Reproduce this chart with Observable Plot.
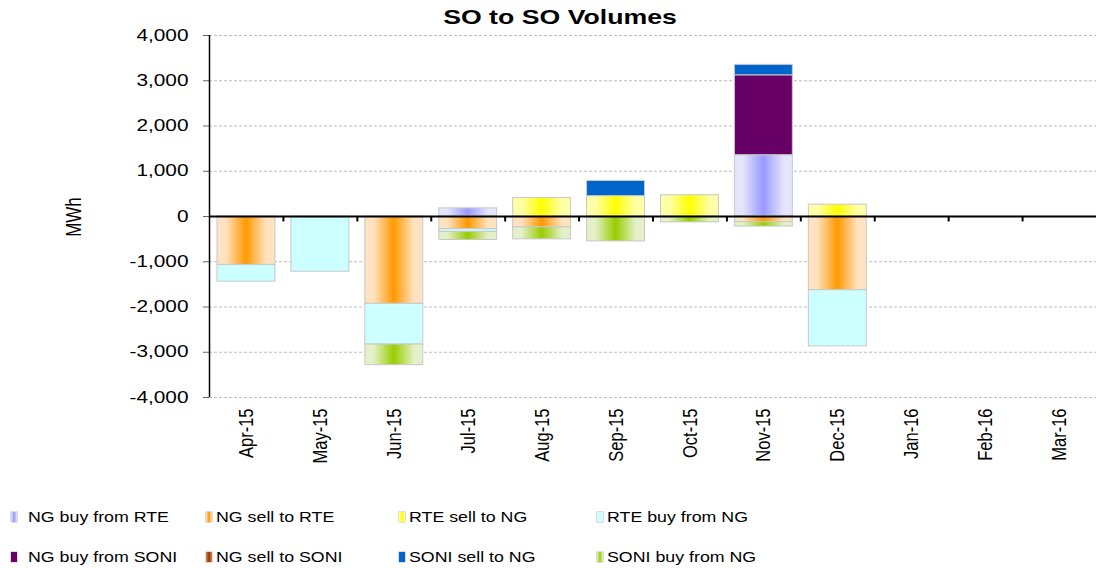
<!DOCTYPE html>
<html>
<head>
<meta charset="utf-8">
<script src="https://cdn.jsdelivr.net/npm/d3@7"></script>
<script src="https://cdn.jsdelivr.net/npm/@observablehq/plot@0.6"></script>
<style>
  html, body { margin: 0; padding: 0; background: #fff; }
  body { width: 1096px; height: 568px; position: relative; overflow: hidden;
         font-family: "Liberation Sans", Arial, sans-serif; color: #000; }
  #chart { position: absolute; left: 0; top: 0; }
  #title { position: absolute; left: 0; width: 1120px; top: 4px; text-align: center;
           font-weight: bold; font-size: 21px; line-height: 26px; }
  #title span { display: inline-block; transform: scaleX(1.27); }
  #ylabel { position: absolute; left: 75px; top: 217px; font-size: 17px; line-height: 20px;
            transform: translate(-50%, -50%) rotate(-90deg) scaleY(1.27); white-space: nowrap; }
  .leg { position: absolute; font-size: 14px; line-height: 16px; white-space: nowrap; }
  .leg .sw { position: absolute; left: 0; top: 3px; width: 6px; height: 10px; }
  .leg .tx { position: absolute; top: 0; display: inline-block; transform: scaleX(1.27); transform-origin: left center; }
</style>
</head>
<body>
<div id="chart"></div>
<div id="title"><span>SO to SO Volumes</span></div>
<div id="ylabel">MWh</div>
<div id="legend"></div>
<script>
// ---- data ----
const months = ["Apr-15","May-15","Jun-15","Jul-15","Aug-15","Sep-15","Oct-15","Nov-15","Dec-15","Jan-16","Feb-16","Mar-16"];
const seriesNames = ["NG buy from RTE","NG sell to RTE","RTE sell to NG","RTE buy from NG",
                     "NG buy from SONI","NG sell to SONI","SONI sell to NG","SONI buy from NG"];
const ngBuyFromRTE   = [0, 0, 0, 180, 0, 0, 0, 1355, 0, 0, 0, 0];
const ngSellToRTE    = [-1070, -20, -1930, -280, -240, 0, 0, -125, -1630, 0, 0, 0];
const rteSellToNG    = [0, 0, 0, 0, 410, 450, 470, 0, 260, 0, 0, 0];
const rteBuyFromNG   = [-370, -1200, -900, -60, 0, 0, 0, 0, -1240, 0, 0, 0];
const ngBuyFromSONI  = [0, 0, 0, 0, 0, 0, 0, 1765, 0, 0, 0, 0];
const ngSellToSONI   = [0, 0, 0, 0, 0, 0, 0, 0, 0, 0, 0, 0];
const soniSellToNG   = [0, 0, 0, 0, 0, 335, 0, 230, 0, 0, 0, 0];
const soniBuyFromNG  = [0, 0, -455, -180, -265, -550, -130, -97, 0, 0, 0, 0];
const yTicks = [-4000, -3000, -2000, -1000, 0, 1000, 2000, 3000, 4000];

const seriesValues = [ngBuyFromRTE, ngSellToRTE, rteSellToNG, rteBuyFromNG,
                      ngBuyFromSONI, ngSellToSONI, soniSellToNG, soniBuyFromNG];
const fills = ["url(#gBlue)","url(#gOrange)","url(#gYellow)","#ccffff",
               "#660066","url(#gBrown)","#0066cc","url(#gGreen)"];
const cssFills = [
  "linear-gradient(90deg,#e4e4fc,#9999ff,#e4e4fc)",
  "linear-gradient(90deg,#ffe2c0,#ff9900,#ffe2c0)",
  "linear-gradient(90deg,#ffffa8,#ffff00,#ffffa8)",
  "#ccffff", "#660066",
  "linear-gradient(90deg,#d08a60,#993300,#d08a60)",
  "#0066cc",
  "linear-gradient(90deg,#e4f0c8,#99cc00,#e4f0c8)"
];

const data = [];
seriesNames.forEach((s, i) => {
  seriesValues[i].forEach((v, j) => { if (v !== 0) data.push({month: months[j], series: s, value: v}); });
});

const W = 1096, H = 470, ML = 209, MR = 0, MT = 35, MB = 73;
const step = (W - ML - MR) / months.length;
const fmt = d => d.toLocaleString("en-US");

const chart = Plot.plot({
  width: W, height: H,
  marginTop: MT, marginBottom: MB, marginLeft: ML, marginRight: MR,
  style: {fontFamily: "'Liberation Sans', Arial, sans-serif", fontSize: "16px", color: "#000", background: "white", overflow: "visible"},
  x: {domain: months, padding: 0, round: false, axis: null},
  y: {domain: [-4000, 4000], axis: null},
  color: {domain: seriesNames, range: fills},
  marks: [
    Plot.gridY(yTicks, {stroke: "#bdbdbd", strokeOpacity: 1, strokeDasharray: "3,2"}),
    Plot.axisY(yTicks, {tickSize: 6, tickPadding: 15, tickFormat: fmt, stroke: "#666", fontSize: 16, label: null}),
    Plot.barY(data, Plot.stackY({x: "month", y: "value", fill: "series", insetLeft: 8, insetRight: 8,
                                 stroke: "#c8c8c8", strokeWidth: 1})),
    Plot.ruleY([0], {stroke: "#000", strokeWidth: 2}),
    Plot.ruleX(months.slice(1), {dx: -step / 2, y1: 0, y2: -120, stroke: "#000", strokeWidth: 2}),
    Plot.ruleX([months[0]], {dx: -step / 2, y1: -4000, y2: 4000, stroke: "#000", strokeWidth: 1.5}),
    Plot.axisX({anchor: "bottom", tickRotate: -90, tickSize: 0, tickPadding: 11, fontSize: 16.5, label: null})
  ]
});
document.getElementById("chart").appendChild(chart);

// gradient definitions
const grads = [
  ["gBlue", "#e4e4fc", "#9999ff"],
  ["gOrange", "#ffe2c0", "#ff9900"],
  ["gYellow", "#ffffa8", "#ffff00"],
  ["gBrown", "#d08a60", "#993300"],
  ["gGreen", "#e4f0c8", "#99cc00"]
];
const defs = d3.select(chart).insert("defs", ":first-child");
grads.forEach(([id, light, dark]) => {
  const g = defs.append("linearGradient").attr("id", id).attr("x1", 0).attr("x2", 1).attr("y1", 0).attr("y2", 0);
  [[0, light], [0.15, light], [0.5, dark], [0.85, light], [1, light]].forEach(([o, c]) =>
    g.append("stop").attr("offset", o).attr("stop-color", c));
});

// horizontal stretch of y tick labels to match the reference
d3.select(chart).selectAll('g[aria-label="y-axis tick label"] text').each(function() {
  const L = this.getComputedTextLength();
  this.setAttribute("textLength", L * 1.3);
  this.setAttribute("lengthAdjust", "spacingAndGlyphs");
});
// widen rotated x tick labels across the page
d3.select(chart).selectAll('g[aria-label="x-axis tick label"] text').each(function() {
  const t = this.getAttribute("transform");
  if (t) this.setAttribute("transform", t + " scale(1,1.25)");
});

// legend
const legCols = [11, 206, 399, 597];
const legRows = [509, 549];
const legend = document.getElementById("legend");
seriesNames.forEach((s, i) => {
  const col = i % 4, row = Math.floor(i / 4);
  const d = document.createElement("div");
  d.className = "leg";
  d.style.left = legCols[col] + "px";
  d.style.top = legRows[row] + "px";
  const sw = document.createElement("div");
  sw.className = "sw";
  sw.style.background = cssFills[i];
  sw.style.boxShadow = "0 0 0 0.5px #bbb";
  const tx = document.createElement("span");
  tx.className = "tx";
  tx.style.left = (col === 0 ? 17 : 10) + "px";
  tx.textContent = s;
  d.appendChild(sw); d.appendChild(tx);
  legend.appendChild(d);
});
</script>
</body>
</html>
